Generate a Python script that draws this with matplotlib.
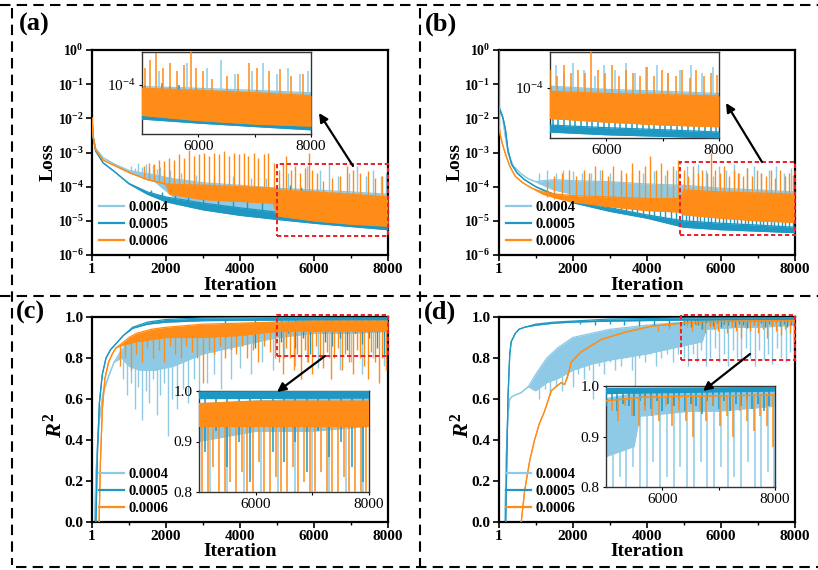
import matplotlib
matplotlib.use("Agg")
import matplotlib.pyplot as plt
from matplotlib.lines import Line2D
from matplotlib.patches import Rectangle, FancyArrowPatch

plt.rcParams.update({
    "font.family": "Liberation Serif",
    "font.weight": "bold",
    "axes.labelweight": "bold",
    "mathtext.fontset": "custom",
    "mathtext.it": "Liberation Serif:italic:bold",
    "mathtext.rm": "Liberation Serif:bold",
    "xtick.labelsize": 11,
    "ytick.labelsize": 11,
    "xtick.direction": "out",
    "ytick.direction": "out",
})

W, H = 818, 570

C_04 = "#8ecae6"
C_05 = "#1e98c2"
C_06 = "#ff8c17"
LR_LABELS = ["0.0004", "0.0005", "0.0006"]

ITER_TICKS = [1, 2000, 4000, 6000, 8000]
ITER_MINOR = [1000, 3000, 5000, 7000]
LOSS_TICKS = [1e0, 1e-1, 1e-2, 1e-3, 1e-4, 1e-5, 1e-6]
LOSS_LABELS = [r"$\mathdefault{10^{0}}$", r"$\mathdefault{10^{-1}}$", r"$\mathdefault{10^{-2}}$",
               r"$\mathdefault{10^{-3}}$", r"$\mathdefault{10^{-4}}$", r"$\mathdefault{10^{-5}}$",
               r"$\mathdefault{10^{-6}}$"]
R2_TICKS = [0.0, 0.2, 0.4, 0.6, 0.8, 1.0]
R2_LABELS = ["0.0", "0.2", "0.4", "0.6", "0.8", "1.0"]
ZOOM_TICKS = [6000, 8000]
ZOOM_R2_TICKS = [0.8, 0.9, 1.0]

# ---------------- (a) loss ----------------
a_lb_x = [1, 30, 100, 300, 600, 1000, 1300, 1700, 2200, 3000, 4000, 5000, 6000, 7000, 8000]
a_lb_hi = [1.2e-2, 3.2e-3, 1.3e-3, 7e-4, 4.6e-4, 3e-4, 2.6e-4, 2.2e-4, 1.7e-4, 1.3e-4, 1.1e-4, 9e-5, 8e-5, 7e-5, 6e-5]
a_lb_lo = [1.2e-2, 3.2e-3, 1.3e-3, 7e-4, 4.6e-4, 2.8e-4, 2e-4, 1.4e-4, 5e-5, 3.2e-5, 2.4e-5, 1.8e-5, 1.5e-5, 1.3e-5, 1.1e-5]
a_lb_sx = [1050, 1150, 1250, 1350, 1450, 1550, 1650, 1750, 1850, 1950, 2100, 2400, 2800, 3300, 3800, 4300, 4700,
           5300, 5800, 6150, 6400, 6650, 6950, 7150, 7400, 7600, 7800, 7950]
a_lb_sb = [2.9e-4, 2.8e-4, 2.6e-4, 2.5e-4, 2.4e-4, 2.3e-4, 2.2e-4, 2e-4, 1.9e-4, 1.8e-4, 1.5e-4, 1.2e-4, 1e-4, 9e-5, 8e-5, 7e-5, 6e-5,
           4e-5, 4e-5, 4e-5, 4e-5, 3.5e-5, 3.5e-5, 3.5e-5, 3e-5, 3e-5, 3e-5, 3e-5]
a_lb_st = [4e-4, 3.5e-4, 5e-4, 3.8e-4, 4.5e-4, 3.5e-4, 4.2e-4, 3.2e-4, 3.8e-4, 3e-4, 3e-4, 2.5e-4, 2.2e-4, 2e-4, 2e-4, 1.8e-4, 1.8e-4,
           2.5e-4, 4e-4, 3e-4, 5e-4, 2e-4, 2.5e-4, 4e-4, 2e-4, 3e-4, 2e-4, 2.5e-4]

a_tl_x = [1, 30, 100, 300, 600, 1000, 1500, 2000, 3000, 4000, 5000, 6000, 7000, 8000]
a_tl_hi = [1e-2, 2.8e-3, 1.1e-3, 5e-4, 2.8e-4, 1.25e-4, 7e-5, 5e-5, 3.3e-5, 2.4e-5, 1.8e-5, 1.5e-5, 1.25e-5, 1.05e-5]
a_tl_lo = [1e-2, 2.8e-3, 1.1e-3, 5e-4, 2.8e-4, 1.2e-4, 6e-5, 3.6e-5, 2.1e-5, 1.45e-5, 1.1e-5, 8.5e-6, 6.8e-6, 5.5e-6]
a_tl_sx = [1600, 1900, 2250, 2600, 3000, 3400, 3800, 4200, 4600, 5050, 5200, 5350, 5500, 5650, 5800, 5950,
           6100, 6350, 6650, 6950, 7250, 7550, 7850]
a_tl_sb = [6e-5, 4.5e-5, 4e-5, 3.5e-5, 3e-5, 2.7e-5, 2.4e-5, 2.2e-5, 2e-5, 1.6e-5, 1.6e-5, 1.5e-5, 1.5e-5, 1.4e-5,
           1.4e-5, 1.3e-5, 1.3e-5, 1.2e-5, 1.1e-5, 1.05e-5, 1e-5, 9e-6, 9e-6]
a_tl_st = [8e-5, 7e-5, 6e-5, 5.5e-5, 5e-5, 4.5e-5, 4e-5, 3.8e-5, 3.5e-5, 1e-4, 8e-5, 1.1e-4, 9e-5, 1e-4,
           7e-5, 8e-5, 6e-5, 4e-5, 3.5e-5, 3e-5, 4e-5, 2.5e-5, 3e-5]

a_or_x = [1, 30, 100, 300, 600, 1000, 1500, 2000, 2100, 3000, 4000, 4900, 5000, 6000, 7000, 8000]
a_or_hi = [1e-2, 3e-3, 1.2e-3, 6e-4, 4.2e-4, 2.6e-4, 1.6e-4, 1.2e-4, 1.18e-4, 1.1e-4, 1e-4, 9e-5, 8e-5, 7e-5, 6e-5, 5e-5]
a_or_lo = [1e-2, 3e-3, 1.2e-3, 6e-4, 4.2e-4, 2.6e-4, 1.6e-4, 1.2e-4, 6e-5, 4.2e-5, 3.7e-5, 3.3e-5, 1.4e-5, 1e-5, 8e-6, 7e-6]
a_or_sx = [1400, 1530, 1670, 1800, 1940, 2070, 2210, 2340, 2480, 2610, 2750, 2880, 3020, 3150, 3290, 3420, 3560,
           3690, 3830, 3960, 4100, 4230, 4370, 4500, 4640, 4770, 4910,
           5050, 5150, 5250, 5380, 5500, 5620, 5750, 5870, 5950, 6080, 6250, 6500, 6700, 6900, 7050, 7250,
           7450, 7650, 7850]
a_or_sb = [1.8e-4, 1.6e-4, 1.5e-4, 1.35e-4, 1.22e-4, 1.1e-4, 8e-5, 8e-5, 8e-5, 8e-5, 8e-5, 8e-5, 8e-5, 8e-5, 8e-5, 8e-5, 8e-5,
           8e-5, 8e-5, 8e-5, 6e-5, 6e-5, 6e-5, 6e-5, 6e-5, 6e-5, 6e-5,
           3e-5, 3e-5, 3e-5, 3e-5, 3e-5, 3e-5, 3e-5, 3e-5, 3e-5, 3e-5, 3e-5, 3e-5, 3e-5, 3e-5, 3e-5, 3e-5,
           3e-5, 3e-5, 3e-5]
a_or_st = [4e-4, 5e-4, 4.5e-4, 6e-4, 5.5e-4, 7e-4, 6e-4, 9e-4, 7e-4, 1.2e-3, 8e-4, 9e-4, 1e-3, 8e-4, 1e-3, 9e-4, 1.1e-3,
           8e-4, 1e-3, 9e-4, 1e-3, 8e-4, 1e-3, 7e-4, 9e-4, 1e-3, 5e-4,
           3e-4, 5e-4, 8e-4, 3e-4, 4e-4, 2.5e-4, 3.5e-4, 1e-3, 3e-4, 2.5e-4, 1.5e-4, 1.8e-4, 2e-4, 4e-4, 3e-4, 2.5e-4,
           2.8e-4, 1.8e-4, 2e-4]

# ---------------- (b) loss ----------------
b_lb_x = [1, 10, 40, 100, 180, 260, 400, 600, 800, 1000, 1200, 1500, 2000, 3000, 4000, 5000, 6000, 7000, 8000]
b_lb_hi = [1.0, 1e-2, 1.8e-2, 1.2e-2, 3e-3, 9e-4, 4e-4, 2.4e-4, 1.7e-4, 1.4e-4, 1.5e-4, 1.6e-4, 1.5e-4, 1.4e-4, 1.2e-4, 1.1e-4, 9e-5, 8e-5, 7e-5]
b_lb_lo = [1.0, 1e-2, 1.8e-2, 1.2e-2, 3e-3, 9e-4, 4e-4, 2.4e-4, 1.7e-4, 1.4e-4, 1.1e-4, 8e-5, 6e-5, 5e-5, 4e-5, 3.5e-5, 3e-5, 2.5e-5, 2.2e-5]
b_lb_sx = [1100, 1300, 1550, 1750, 2000, 2250, 2500, 2750, 3000, 3300, 3600, 3900, 4200, 4500, 4800,
           5100, 5250, 5400, 5600, 5800, 5950, 6150, 6350, 6500, 6700, 6900, 7100, 7300, 7500, 7700, 7900]
b_lb_sb = [1.2e-4, 1.1e-4, 1e-4, 1e-4, 9e-5, 9e-5, 8e-5, 8e-5, 8e-5, 8e-5, 7e-5, 7e-5, 7e-5, 6e-5, 6e-5,
           6e-5, 6e-5, 6e-5, 6e-5, 5e-5, 5e-5, 5e-5, 5e-5, 5e-5, 5e-5, 5e-5, 4.5e-5, 4.5e-5, 4.5e-5, 4.5e-5, 4.5e-5]
b_lb_st = [2.5e-4, 3e-4, 2.5e-4, 3e-4, 2.8e-4, 2.5e-4, 2.5e-4, 3e-4, 2.5e-4, 2.2e-4, 2.5e-4, 2.5e-4, 2.8e-4, 2.2e-4, 3e-4,
           4e-4, 2.5e-4, 4.5e-4, 3e-4, 2e-4, 4e-4, 3e-4, 4.5e-4, 2.5e-4, 3.5e-4, 4e-4, 2.5e-4, 3e-4, 4e-4, 2.5e-4, 3.5e-4]

b_tl_x = [1, 20, 60, 120, 180, 250, 350, 500, 700, 1000, 1500, 2000, 3000, 4000, 5000, 6000, 7000, 8000]
b_tl_hi = [5e-3, 2e-2, 1.5e-2, 1e-2, 5e-3, 1.2e-3, 4.5e-4, 2.5e-4, 1.6e-4, 1e-4, 6e-5, 4e-5, 2.4e-5, 1.5e-5, 1e-5, 8.5e-6, 7.5e-6, 6.5e-6]
b_tl_lo = [5e-3, 2e-2, 1.5e-2, 1e-2, 5e-3, 1.2e-3, 4.5e-4, 2.5e-4, 1.6e-4, 1e-4, 5.5e-5, 3.4e-5, 1.9e-5, 1.2e-5, 6.5e-6, 5.5e-6, 5e-6, 4.5e-6]
b_tl_sx = [3000, 3150, 3300, 3450, 3600, 3750, 3900, 4050, 4200, 4350, 4500, 4650, 4800, 4950,
           5050, 5150, 5250, 5350, 5450, 5550, 5650, 5750, 5850, 5950, 6050, 6150, 6250, 6350, 6450,
           6550, 6650, 6750, 6850, 6950, 7050, 7150, 7250, 7350, 7450, 7550, 7650, 7750, 7850, 7950]
b_tl_sb = [2.1e-5, 2e-5, 1.9e-5, 1.8e-5, 1.7e-5, 1.6e-5, 1.5e-5, 1.4e-5, 1.3e-5, 1.2e-5, 1.1e-5, 1e-5, 9.5e-6, 9e-6,
           8e-6, 8e-6, 8e-6, 7.5e-6, 7.5e-6, 7.5e-6, 7e-6, 7e-6, 7e-6, 7e-6, 7e-6, 6.5e-6, 6.5e-6, 6.5e-6, 6.5e-6,
           6.5e-6, 6.5e-6, 6.5e-6, 6e-6, 6e-6, 6e-6, 6e-6, 6e-6, 6e-6, 6e-6, 5.5e-6, 5.5e-6, 5.5e-6, 5.5e-6, 5.5e-6]
b_tl_st = [3.2e-5, 3e-5, 2.8e-5, 3e-5, 2.6e-5, 2.8e-5, 2.5e-5, 2.4e-5, 2.6e-5, 2.2e-5, 2.4e-5, 2.1e-5, 2.2e-5, 2e-5,
           2e-5, 1.8e-5, 2.2e-5, 1.7e-5, 1.9e-5, 2.1e-5, 1.6e-5, 2e-5, 1.8e-5, 1.6e-5, 1.9e-5, 1.7e-5, 2e-5, 1.5e-5, 1.8e-5,
           1.6e-5, 1.9e-5, 1.5e-5, 1.7e-5, 1.8e-5, 1.5e-5, 1.6e-5, 1.8e-5, 1.4e-5, 1.7e-5, 1.5e-5, 1.6e-5, 1.4e-5, 1.7e-5, 1.5e-5]

b_or_x = [1, 10, 50, 120, 200, 300, 450, 650, 900, 1200, 1600, 2000, 3000, 4000, 4900, 5000, 6000, 7000, 8000]
b_or_hi = [1.0, 6e-3, 3e-3, 1.5e-3, 8e-4, 4e-4, 2e-4, 1.3e-4, 9e-5, 7e-5, 6e-5, 5.5e-5, 5e-5, 4.5e-5, 4.5e-5, 8e-5, 7e-5, 6.5e-5, 6e-5]
b_or_lo = [1.0, 6e-3, 3e-3, 1.5e-3, 8e-4, 4e-4, 2e-4, 1.3e-4, 9e-5, 6e-5, 4.5e-5, 3.6e-5, 2.6e-5, 2e-5, 1.8e-5, 1.5e-5, 1.2e-5, 1e-5, 9e-6]
b_or_sx = [1300, 1500, 1700, 1900, 2100,
           2300, 2450, 2600, 2800, 2950, 3100, 3300, 3450, 3600, 3800, 3950, 4100, 4260, 4400, 4550, 4700, 4850,
           5000, 5120, 5250, 5380, 5500, 5620, 5730, 5850, 5980, 6100, 6220, 6350, 6480, 6600, 6720, 6850,
           6980, 7100, 7230, 7350, 7480, 7600, 7730, 7850, 7960]
b_or_sb = [5e-5, 4.5e-5, 4.2e-5, 4e-5, 4e-5,
           3.5e-5, 3.5e-5, 3.5e-5, 3.5e-5, 3.5e-5, 3.5e-5, 3.5e-5, 3.5e-5, 3e-5, 3e-5, 3e-5, 3e-5, 3e-5, 3e-5, 3e-5, 3e-5, 3e-5,
           3e-5, 3e-5, 3e-5, 3e-5, 3e-5, 3e-5, 3e-5, 3e-5, 3e-5, 3e-5, 3e-5, 3e-5, 3e-5, 3e-5, 3e-5, 3e-5,
           3e-5, 3e-5, 3e-5, 3e-5, 3e-5, 3e-5, 3e-5, 3e-5, 3e-5]
b_or_st = [1.5e-4, 2e-4, 2.5e-4, 3e-4, 2e-4,
           3e-4, 2.5e-4, 4e-4, 3e-4, 2e-4, 4e-4, 3e-4, 2.5e-4, 5e-4, 3e-4, 4e-4, 8e-4, 3e-4, 5e-4, 3e-4, 4e-4, 6e-4,
           3e-4, 2e-4, 4e-4, 2.5e-4, 3e-4, 2.5e-4, 1e-3, 3e-4, 2.5e-4, 4e-4, 2e-4, 3e-4, 2.5e-4, 2e-4, 3.5e-4, 2e-4,
           3e-4, 2.5e-4, 2e-4, 3e-4, 1.8e-4, 3e-4, 2e-4, 2.5e-4, 2.2e-4]

# ---------------- (c) R2 ----------------
c_lb_x = [1, 60, 100, 150, 200, 300, 470, 600, 800, 1000, 1300, 1700, 2200, 3000, 4000, 5000, 6000, 7000, 8000]
c_lb_hi = [-1.0, -0.1, 0.2, 0.38, 0.5, 0.63, 0.72, 0.78, 0.84, 0.88, 0.9, 0.92, 0.93, 0.95, 0.965, 0.975, 0.98, 0.985, 0.985]
c_lb_lo = [-1.0, -0.1, 0.2, 0.38, 0.5, 0.63, 0.72, 0.78, 0.8, 0.76, 0.74, 0.74, 0.76, 0.82, 0.86, 0.9, 0.92, 0.92, 0.93]
c_lb_sx = [850, 950, 1050, 1150, 1250, 1350, 1450, 1550, 1650, 1750, 1850, 1950, 2050, 2150,
           2300, 2450, 2600, 2750, 2900, 3100, 3300, 3500, 3750, 4000,
           4300, 4600, 4900, 5200, 5500, 5800, 6100, 6400, 6700, 7000, 7300, 7600, 7900]
c_lb_sb = [0.82, 0.82, 0.82, 0.82, 0.82, 0.82, 0.82, 0.82, 0.82, 0.82, 0.82, 0.82, 0.82, 0.82,
           0.85, 0.85, 0.85, 0.85, 0.85, 0.88, 0.88, 0.88, 0.88, 0.88,
           0.92, 0.92, 0.92, 0.95, 0.95, 0.95, 0.95, 0.95, 0.95, 0.95, 0.95, 0.95, 0.95]
c_lb_st = [0.7, 0.62, 0.68, 0.55, 0.66, 0.5, 0.64, 0.58, 0.7, 0.52, 0.62, 0.68, 0.42, 0.6,
           0.55, 0.65, 0.58, 0.7, 0.62, 0.68, 0.72, 0.65, 0.7, 0.75,
           0.72, 0.78, 0.74, 0.8, 0.76, 0.78, 0.75, 0.8, 0.74, 0.78, 0.72, 0.8, 0.76]

c_tl_x = [1, 100, 150, 200, 280, 380, 500, 650, 850, 1100, 1500, 2000, 3000, 5000, 8000]
c_tl_hi = [-1.0, -0.05, 0.35, 0.58, 0.72, 0.8, 0.84, 0.87, 0.91, 0.95, 0.975, 0.988, 0.995, 0.998, 0.999]
c_tl_lo = [-1.0, -0.05, 0.35, 0.58, 0.72, 0.8, 0.84, 0.87, 0.91, 0.945, 0.965, 0.975, 0.982, 0.985, 0.986]
c_tl_sx = [3600, 4400, 5100, 5300, 5500, 5700, 5900, 6100, 6300, 6500, 6700, 6900, 7100, 7300, 7500, 7700, 7900]
c_tl_sb = [0.99, 0.99, 0.99, 0.99, 0.99, 0.99, 0.99, 0.99, 0.99, 0.99, 0.99, 0.99, 0.99, 0.99, 0.99, 0.99, 0.99]
c_tl_st = [0.9, 0.85, 0.88, 0.92, 0.85, 0.9, 0.82, 0.93, 0.88, 0.86, 0.9, 0.84, 0.92, 0.87, 0.9, 0.85, 0.82]

c_or_x = [1, 180, 230, 280, 350, 450, 550, 650, 800, 1000, 1200, 1600, 2000, 3000, 4000, 5000, 6000, 7000, 8000]
c_or_hi = [-1.0, -0.1, 0.3, 0.55, 0.7, 0.78, 0.82, 0.85, 0.87, 0.9, 0.92, 0.94, 0.95, 0.965, 0.97, 0.975, 0.98, 0.98, 0.98]
c_or_lo = [-1.0, -0.1, 0.3, 0.55, 0.7, 0.78, 0.82, 0.85, 0.86, 0.87, 0.88, 0.89, 0.9, 0.9, 0.91, 0.93, 0.93, 0.93, 0.93]
c_or_sx = [750, 900, 1050, 1200, 1350, 1500, 1650, 1800, 1950, 2100, 2250, 2400, 2550, 2700, 2850, 3000,
           3150, 3300, 3450, 3600, 3750, 3900, 4050, 4200, 4350, 4500, 4650, 4800, 4950,
           5050, 5150, 5250, 5350, 5450, 5550, 5650, 5750, 5850, 5950, 6050, 6150, 6250, 6350, 6450,
           6550, 6650, 6750, 6850, 6950, 7050, 7150, 7250, 7350, 7450, 7550, 7650, 7750, 7850, 7950]
c_or_sb = [0.86, 0.875, 0.89, 0.91, 0.92, 0.92, 0.92, 0.93, 0.93, 0.93, 0.93, 0.93, 0.93, 0.93, 0.93, 0.93,
           0.93, 0.93, 0.93, 0.93, 0.93, 0.93, 0.93, 0.93, 0.93, 0.93, 0.93, 0.93, 0.93,
           0.95, 0.95, 0.95, 0.95, 0.95, 0.95, 0.95, 0.95, 0.95, 0.95, 0.95, 0.95, 0.95, 0.95, 0.95,
           0.95, 0.95, 0.95, 0.95, 0.95, 0.95, 0.95, 0.95, 0.95, 0.95, 0.95, 0.95, 0.95, 0.95, 0.95]
c_or_st = [0.76, 0.8, 0.74, 0.82, 0.78, 0.85, 0.8, 0.84, 0.78, 0.86, 0.82, 0.8, 0.86, 0.83, 0.8, 0.68,
           0.84, 0.82, 0.86, 0.8, 0.84, 0.82, 0.86, 0.8, 0.84, 0.78, 0.86, 0.83, 0.8,
           0.78, 0.72, 0.85, 0.8, 0.74, 0.82, 0.7, 0.84, 0.78, 0.72, 0.86, 0.8, 0.75, 0.83, 0.7,
           0.8, 0.85, 0.74, 0.82, 0.78, 0.72, 0.84, 0.8, 0.76, 0.7, 0.83, 0.78, 0.68, 0.8, 0.74]

# ---------------- (d) R2 ----------------
d_lb_x = [1, 150, 200, 250, 300, 350, 450, 600, 800, 1000, 1300, 1600, 2000, 2500, 3000, 4000, 5000, 5500, 5600, 6500, 7000, 8000]
d_lb_hi = [-1.0, -0.2, 0.3, 0.52, 0.6, 0.61, 0.62, 0.63, 0.66, 0.72, 0.8, 0.85, 0.9, 0.92, 0.94, 0.96, 0.975, 0.985, 0.99, 0.99, 0.99, 0.995]
d_lb_lo = [-1.0, -0.2, 0.3, 0.52, 0.6, 0.61, 0.62, 0.63, 0.66, 0.64, 0.68, 0.7, 0.74, 0.77, 0.79, 0.82, 0.86, 0.88, 0.94, 0.95, 0.95, 0.96]
d_lb_sx = [1100, 1250, 1400, 1550, 1700, 1850, 2000, 2150, 2300, 2450,
           2550, 2700, 2850, 3000, 3150, 3300, 3450, 3600, 3680, 3800, 3950, 4100, 4250, 4400, 4550, 4700, 4850,
           5000, 5120, 5240, 5360, 5480, 5600, 5720, 5840, 5960, 6080, 6200, 6320, 6440, 6560, 6680, 6800,
           6920, 7040, 7160, 7280, 7400, 7520, 7640, 7760, 7880, 7980]
d_lb_sb = [0.7, 0.72, 0.74, 0.76, 0.78, 0.8, 0.82, 0.83, 0.84, 0.85,
           0.86, 0.86, 0.87, 0.87, 0.88, 0.88, 0.88, 0.89, 0.89, 0.89, 0.9, 0.9, 0.9, 0.91, 0.91, 0.91, 0.92,
           0.93, 0.93, 0.93, 0.93, 0.93, 0.97, 0.97, 0.97, 0.97, 0.97, 0.97, 0.97, 0.97, 0.97, 0.97, 0.97,
           0.97, 0.97, 0.97, 0.97, 0.97, 0.97, 0.97, 0.97, 0.97, 0.97]
d_lb_st = [0.6, 0.65, 0.62, 0.66, 0.64, 0.7, 0.66, 0.72, 0.7, 0.74,
           0.6, 0.76, 0.72, 0.78, 0.74, 0.76, 0.8, 0.74, 0.55, 0.8, 0.78, 0.82, 0.76, 0.8, 0.82, 0.78, 0.82,
           0.8, 0.76, 0.82, 0.78, 0.84, 0.76, 0.8, 0.85, 0.78, 0.82, 0.76, 0.84, 0.8, 0.78, 0.85, 0.8,
           0.76, 0.84, 0.79, 0.82, 0.77, 0.85, 0.8, 0.78, 0.83, 0.8]

d_tl_x = [1, 150, 190, 250, 300, 340, 450, 550, 700, 1000, 1500, 2000, 3000, 5000, 8000]
d_tl_hi = [-1.0, -0.2, 0.0, 0.6, 0.82, 0.88, 0.92, 0.94, 0.95, 0.965, 0.975, 0.98, 0.99, 0.995, 0.997]
d_tl_lo = [-1.0, -0.2, 0.0, 0.6, 0.82, 0.88, 0.92, 0.94, 0.95, 0.96, 0.97, 0.975, 0.98, 0.985, 0.99]
d_tl_sx = [2200, 2600, 3000, 3400, 3800, 4200, 4600,
           5000, 5100, 5200, 5300, 5400, 5500, 5600, 5700, 5800, 5900, 6000, 6100, 6200, 6300, 6400,
           6500, 6600, 6700, 6800, 6900, 7000, 7100, 7200, 7300, 7400, 7500, 7600, 7700, 7800, 7900]
d_tl_sb = [0.978, 0.98, 0.982, 0.983, 0.984, 0.985, 0.986,
           0.99, 0.99, 0.99, 0.99, 0.99, 0.99, 0.99, 0.99, 0.99, 0.99, 0.99, 0.99, 0.99, 0.99, 0.99,
           0.99, 0.99, 0.99, 0.99, 0.99, 0.99, 0.99, 0.99, 0.99, 0.99, 0.99, 0.99, 0.99, 0.99, 0.99]
d_tl_st = [0.965, 0.96, 0.965, 0.96, 0.955, 0.96, 0.955,
           0.96, 0.97, 0.95, 0.965, 0.96, 0.94, 0.97, 0.96, 0.955, 0.97, 0.95, 0.965, 0.96, 0.97, 0.95,
           0.965, 0.96, 0.945, 0.97, 0.96, 0.955, 0.97, 0.95, 0.965, 0.96, 0.97, 0.955, 0.965, 0.95, 0.96]

d_or_x = [1, 500, 610, 700, 840, 970, 1100, 1240, 1420, 1550, 1690, 1780, 1880, 1960, 2230, 2770, 3400, 4130, 4940, 5660, 6500, 8000]
d_or_y = [-1.5, -0.3, 0.0, 0.15, 0.3, 0.4, 0.48, 0.54, 0.64, 0.66, 0.68, 0.67, 0.72, 0.78, 0.83, 0.89, 0.925, 0.955, 0.97, 0.978, 0.98, 0.982]
d_or_sx = [4300, 4600, 4900, 5100, 5220, 5340, 5460, 5580, 5700, 5820, 5940, 6060, 6180, 6300, 6420,
           6540, 6660, 6780, 6900, 7020, 7140, 7260, 7380, 7500, 7620, 7740, 7860, 7970]
d_or_sb = [0.958, 0.963, 0.969, 0.972, 0.974, 0.975, 0.976, 0.977, 0.978, 0.979, 0.979, 0.979, 0.979, 0.979, 0.979,
           0.98, 0.98, 0.98, 0.98, 0.98, 0.98, 0.98, 0.98, 0.98, 0.98, 0.98, 0.98, 0.98]
d_or_st = [0.93, 0.94, 0.92, 0.95, 0.93, 0.96, 0.94, 0.92, 0.95, 0.94, 0.93, 0.96, 0.92, 0.95, 0.93,
           0.9, 0.95, 0.93, 0.96, 0.92, 0.94, 0.9, 0.95, 0.93, 0.91, 0.94, 0.92, 0.88]


def draw_curves(ax, curves, spike_lw):
    # each curve: band (lo..hi) plus narrow excursions drawn as vertical strokes
    for k, (x, lo, hi, sx, sb, st, color) in enumerate(curves):
        z = 2 + k
        ax.vlines(sx, sb, st, colors=color, lw=spike_lw, zorder=z)
        ax.fill_between(x, lo, hi, color=color, lw=0, zorder=z + 0.5)
        ax.plot(x, lo, color=color, lw=0.9, zorder=z + 0.5)
        ax.plot(x, hi, color=color, lw=0.9, zorder=z + 0.5)


def px_rect(left, top, right, bottom):
    return [left / W, 1 - bottom / H, (right - left) / W, (bottom - top) / H]


def main_axes(fig, box, curves, log, ylabel, ylab_size, xlab_y, ylab_pos):
    ax = fig.add_axes(px_rect(*box))
    draw_curves(ax, curves, 1.0)
    ax.set_xlim(1, 8000)
    ax.set_xticks(ITER_TICKS, [str(t) for t in ITER_TICKS])
    ax.set_xticks(ITER_MINOR, minor=True)
    if log:
        ax.set_yscale("log")
        ax.set_ylim(1e-6, 1)
        ax.set_yticks(LOSS_TICKS, LOSS_LABELS, fontsize=10)
        ax.yaxis.set_minor_locator(plt.NullLocator())
    else:
        ax.set_ylim(0, 1.0)
        ax.set_yticks(R2_TICKS, R2_LABELS)
    ax.tick_params(which="major", length=4, width=1.2, pad=2)
    ax.tick_params(which="minor", length=2.5, width=1.0)
    for s in ax.spines.values():
        s.set_linewidth(1.6)
    ax.set_xlabel("Iteration", fontsize=14)
    ax.set_ylabel(ylabel, fontsize=ylab_size)
    ax.xaxis.set_label_coords(0.5, xlab_y)
    ax.yaxis.set_label_coords(*ylab_pos)
    handles = [Line2D([], [], color=c, lw=1.6) for c in (C_04, C_05, C_06)]
    ax.legend(handles, LR_LABELS, loc="lower left", frameon=False,
              prop={"weight": "bold", "size": 10.5}, handlelength=1.7,
              handletextpad=0.3, labelspacing=0.25, borderaxespad=0.2, borderpad=0.3)
    return ax


def zoom_axes(fig, box, curves, log, ylim, yticks, ylabels):
    ax = fig.add_axes(px_rect(*box), zorder=5)
    draw_curves(ax, curves, 1.1)
    ax.set_xlim(5000, 8000)
    ax.set_xticks(ZOOM_TICKS, [str(t) for t in ZOOM_TICKS], fontweight="normal", fontsize=11)
    ax.set_xticks([7000], minor=True)
    if log:
        ax.set_yscale("log")
    ax.set_ylim(*ylim)
    ax.set_yticks(yticks, ylabels, fontweight="normal", fontsize=11)
    ax.yaxis.set_minor_locator(plt.NullLocator())
    ax.tick_params(which="both", length=2.5, width=0.8, pad=2)
    for s in ax.spines.values():
        s.set_linewidth(1.0)
        s.set_color("#333333")
    return ax


def red_box(ax, x0, x1, y0, y1):
    ax.add_patch(Rectangle((x0, y0), x1 - x0, y1 - y0, fill=False, ec="#e8212b",
                           lw=1.4, ls=(0, (2.2, 1.4)), clip_on=False, zorder=20))


def arrow(fig, tail, head):
    fig.add_artist(FancyArrowPatch((tail[0] / W, 1 - tail[1] / H), (head[0] / W, 1 - head[1] / H),
                                   transform=fig.transFigure, arrowstyle="-|>", mutation_scale=13,
                                   lw=1.6, color="black", shrinkA=0, shrinkB=0, zorder=30))


def dashed(fig, x0, y0, x1, y1):
    fig.add_artist(Line2D([x0 / W, x1 / W], [1 - y0 / H, 1 - y1 / H], transform=fig.transFigure,
                          color="black", lw=1.5, ls=(0, (5, 3))))


fig = plt.figure(figsize=(W / 100, H / 100), dpi=100)

curves_a = [(a_lb_x, a_lb_lo, a_lb_hi, a_lb_sx, a_lb_sb, a_lb_st, C_04),
            (a_tl_x, a_tl_lo, a_tl_hi, a_tl_sx, a_tl_sb, a_tl_st, C_05),
            (a_or_x, a_or_lo, a_or_hi, a_or_sx, a_or_sb, a_or_st, C_06)]
curves_b = [(b_lb_x, b_lb_lo, b_lb_hi, b_lb_sx, b_lb_sb, b_lb_st, C_04),
            (b_tl_x, b_tl_lo, b_tl_hi, b_tl_sx, b_tl_sb, b_tl_st, C_05),
            (b_or_x, b_or_lo, b_or_hi, b_or_sx, b_or_sb, b_or_st, C_06)]
curves_c = [(c_lb_x, c_lb_lo, c_lb_hi, c_lb_sx, c_lb_sb, c_lb_st, C_04),
            (c_tl_x, c_tl_lo, c_tl_hi, c_tl_sx, c_tl_sb, c_tl_st, C_05),
            (c_or_x, c_or_lo, c_or_hi, c_or_sx, c_or_sb, c_or_st, C_06)]
curves_d = [(d_lb_x, d_lb_lo, d_lb_hi, d_lb_sx, d_lb_sb, d_lb_st, C_04),
            (d_tl_x, d_tl_lo, d_tl_hi, d_tl_sx, d_tl_sb, d_tl_st, C_05),
            (d_or_x, d_or_y, d_or_y, d_or_sx, d_or_sb, d_or_st, C_06)]

R2_LABEL = r"$\mathit{R}^{\mathdefault{2}}$"

ax_a = main_axes(fig, (92, 50, 388, 255), curves_a, True, "Loss", 14, -0.105, (-0.118, 0.454))
ax_b = main_axes(fig, (498.7, 50, 794.7, 255), curves_b, True, "Loss", 14, -0.105, (-0.118, 0.454))
ax_c = main_axes(fig, (92, 317, 388, 522), curves_c, False, R2_LABEL, 16, -0.1, (-0.085, 0.47))
ax_d = main_axes(fig, (498.7, 317, 794.7, 522), curves_d, False, R2_LABEL, 16, -0.1, (-0.085, 0.47))

red_box(ax_a, 5000, 8000, 3.5e-6, 4.5e-4)
red_box(ax_b, 4900, 8000, 3.8e-6, 5.4e-4)
red_box(ax_c, 5000, 8000, 0.81, 1.012)
red_box(ax_d, 4930, 8000, 0.79, 1.012)

loss_zoom_label = [r"$\mathdefault{10^{-4}}$"]
r2_zoom_labels = ["0.8", "0.9", "1.0"]
zoom_axes(fig, (142, 52, 311, 134), curves_a, True, (4.2e-6, 8.3e-4), [1e-4], loss_zoom_label)
zoom_axes(fig, (550, 52, 719, 138), curves_b, True, (4.5e-6, 9e-4), [1e-4], loss_zoom_label)
zoom_axes(fig, (199, 391, 369, 492), curves_c, False, (0.8, 1.0), ZOOM_R2_TICKS, r2_zoom_labels)
zoom_axes(fig, (606, 386, 775, 487), curves_d, False, (0.8, 1.0), ZOOM_R2_TICKS, r2_zoom_labels)

arrow(fig, (353, 166), (319, 113))
arrow(fig, (762, 162), (726, 103))
arrow(fig, (325, 356), (277, 392))
arrow(fig, (750, 354), (703, 391))

for label, (px, py) in zip(["(a)", "(b)", "(c)", "(d)"], [(34, 24), (441, 24), (30, 312), (440, 312)]):
    fig.text(px / W, 1 - py / H, label, fontsize=19, fontweight="bold", ha="center", va="center")

# panel frame
dashed(fig, 0, 5, W, 5)
dashed(fig, 0, 296, W, 296)
dashed(fig, 16, 567, W, 567)
dashed(fig, 12, 8, 12, 565)
dashed(fig, 420, 8, 420, 567)

fig.savefig("out.png", dpi=100)
